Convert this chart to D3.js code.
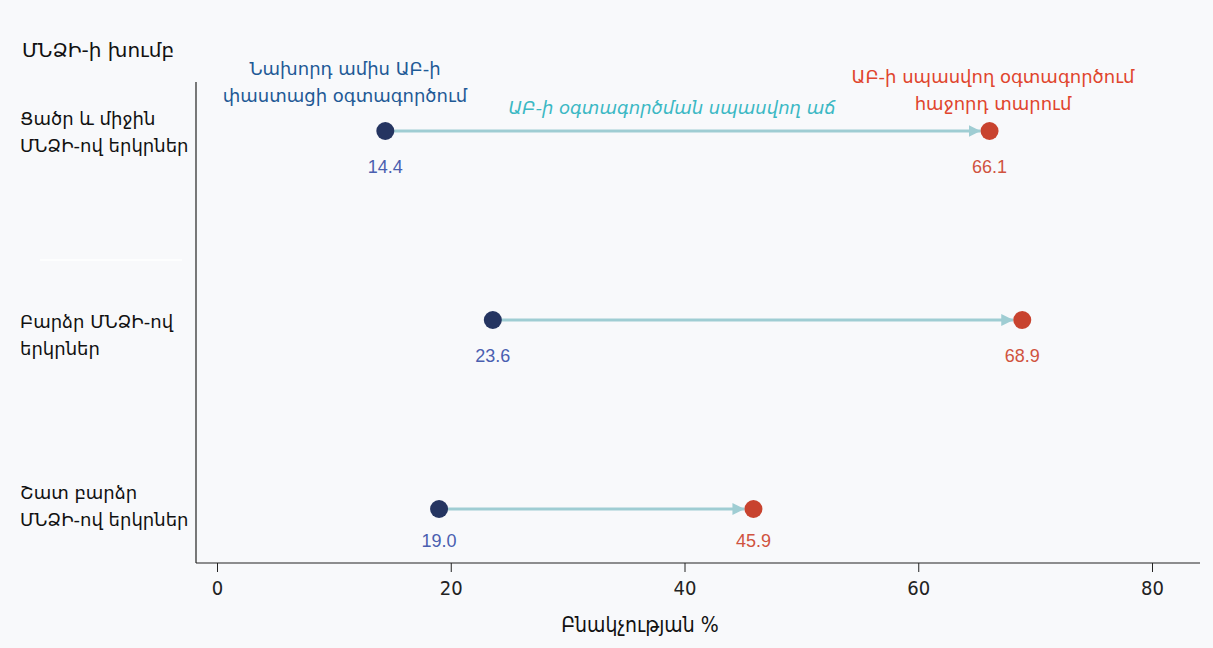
<!DOCTYPE html>
<html>
<head>
<meta charset="utf-8">
<script src="https://cdn.jsdelivr.net/npm/d3@7"></script>
<style>
  body { margin: 0; background: #f8f9fb; }
  svg { display: block; font-family: "DejaVu Sans", sans-serif; }
</style>
</head>
<body>
<svg id="chart"></svg>
<script>
// data
var groups = [
  ["Ցածր և միջին", "ՄՆՁԻ-ով երկրներ"],
  ["Բարձր ՄՆՁԻ-ով", "երկրներ"],
  ["Շատ բարձր", "ՄՆՁԻ-ով երկրներ"]
];
var lastMonth = [14.4, 23.6, 19.0];
var nextYear = [66.1, 68.9, 45.9];
var xTicks = [0, 20, 40, 60, 80];

var W = 1213, H = 648;
var svg = d3.select("#chart").attr("width", W).attr("height", H);

var xScale = d3.scaleLinear().domain([0, 80]).range([217, 1152]);
var yScale = d3.scalePoint().domain(d3.range(groups.length)).range([131, 509]);

var axisY = 563;
var numFont = "'Liberation Sans', Arial, sans-serif";

// x axis
var xAxis = d3.axisBottom(xScale).tickValues(xTicks).tickSize(9).tickPadding(9);
var gx = svg.append("g")
    .attr("transform", "translate(0," + axisY + ")")
    .call(xAxis);
gx.select(".domain").remove();
gx.selectAll(".tick line").attr("stroke", "#222");
gx.selectAll(".tick text")
    .attr("fill", "#222")
    .style("font-family", "'Liberation Sans Narrow', 'DejaVu Sans Condensed', sans-serif")
    .style("font-size", "20px");

svg.append("line")
    .attr("x1", 196).attr("x2", 1200)
    .attr("y1", axisY).attr("y2", axisY)
    .attr("stroke", "#222").attr("stroke-width", 1.2);
svg.append("line")
    .attr("x1", 196).attr("x2", 196)
    .attr("y1", 82).attr("y2", axisY)
    .attr("stroke", "#222").attr("stroke-width", 1.2);

svg.append("text")
    .attr("x", 640).attr("y", 632)
    .attr("text-anchor", "middle")
    .style("font-family", "'DejaVu Sans Condensed', sans-serif")
    .style("font-size", "21px").attr("fill", "#111")
    .text("Բնակչության %");

svg.append("text")
    .attr("x", 22).attr("y", 57)
    .style("font-size", "20px").attr("fill", "#111")
    .text("ՄՆՁԻ-ի խումբ");

// faint separator seen in the reference
svg.append("line")
    .attr("x1", 40).attr("x2", 182).attr("y1", 260).attr("y2", 260)
    .attr("stroke", "#ffffff").attr("stroke-width", 1.5);

// row labels
groups.forEach(function(lines, i) {
  var t = svg.append("text")
      .attr("x", 20)
      .attr("y", yScale(i) + [-6, 8, -10][i])
      .style("font-size", "18px").attr("fill", "#111");
  lines.forEach(function(l, k) {
    t.append("tspan").attr("x", 20).attr("dy", k === 0 ? 0 : 27).text(l);
  });
});

// arrowhead
svg.append("defs").append("marker")
    .attr("id", "arrow")
    .attr("viewBox", "0 0 10 10")
    .attr("refX", 10).attr("refY", 5)
    .attr("markerWidth", 4).attr("markerHeight", 4)
    .attr("markerUnits", "strokeWidth")
    .attr("orient", "auto")
    .append("path")
    .attr("d", "M0,0 L10,5 L0,10 Z")
    .attr("fill", "#9fcdd3");

var rows = svg.append("g").selectAll("g")
    .data(d3.range(groups.length))
    .enter().append("g");

rows.append("line")
    .attr("x1", function(i) { return xScale(lastMonth[i]); })
    .attr("x2", function(i) { return xScale(nextYear[i]) - 9; })
    .attr("y1", function(i) { return yScale(i); })
    .attr("y2", function(i) { return yScale(i); })
    .attr("stroke", "#9fcdd3")
    .attr("stroke-width", 3)
    .attr("marker-end", "url(#arrow)");

rows.append("circle")
    .attr("cx", function(i) { return xScale(lastMonth[i]); })
    .attr("cy", function(i) { return yScale(i); })
    .attr("r", 9)
    .attr("fill", "#253561");

rows.append("circle")
    .attr("cx", function(i) { return xScale(nextYear[i]); })
    .attr("cy", function(i) { return yScale(i); })
    .attr("r", 9)
    .attr("fill", "#c8432f");

rows.append("text")
    .attr("x", function(i) { return xScale(lastMonth[i]); })
    .attr("y", function(i) { return yScale(i) + [42, 42, 38][i]; })
    .attr("text-anchor", "middle")
    .style("font-family", numFont)
    .style("font-size", "18px")
    .attr("fill", "#4a5fb0")
    .text(function(i) { return d3.format(".1f")(lastMonth[i]); });

rows.append("text")
    .attr("x", function(i) { return xScale(nextYear[i]); })
    .attr("y", function(i) { return yScale(i) + [42, 42, 38][i]; })
    .attr("text-anchor", "middle")
    .style("font-family", numFont)
    .style("font-size", "18px")
    .attr("fill", "#d0533f")
    .text(function(i) { return d3.format(".1f")(nextYear[i]); });

// annotations
var ann1 = svg.append("text")
    .attr("text-anchor", "middle")
    .style("font-size", "18px")
    .attr("fill", "#1f5a96");
ann1.append("tspan").attr("x", 345).attr("y", 75).text("Նախորդ ամիս ԱԲ-ի");
ann1.append("tspan").attr("x", 345).attr("y", 102).text("փաստացի օգտագործում");

svg.append("text")
    .attr("x", 672).attr("y", 114)
    .attr("text-anchor", "middle")
    .style("font-size", "18px").style("font-style", "italic")
    .attr("fill", "#3bb8c4")
    .text("ԱԲ-ի օգտագործման սպասվող աճ");

var ann3 = svg.append("text")
    .attr("text-anchor", "middle")
    .style("font-size", "18px")
    .attr("fill", "#e0452d");
ann3.append("tspan").attr("x", 993).attr("y", 83).text("ԱԲ-ի սպասվող օգտագործում");
ann3.append("tspan").attr("x", 993).attr("y", 110).text("հաջորդ տարում");
</script>
</body>
</html>
